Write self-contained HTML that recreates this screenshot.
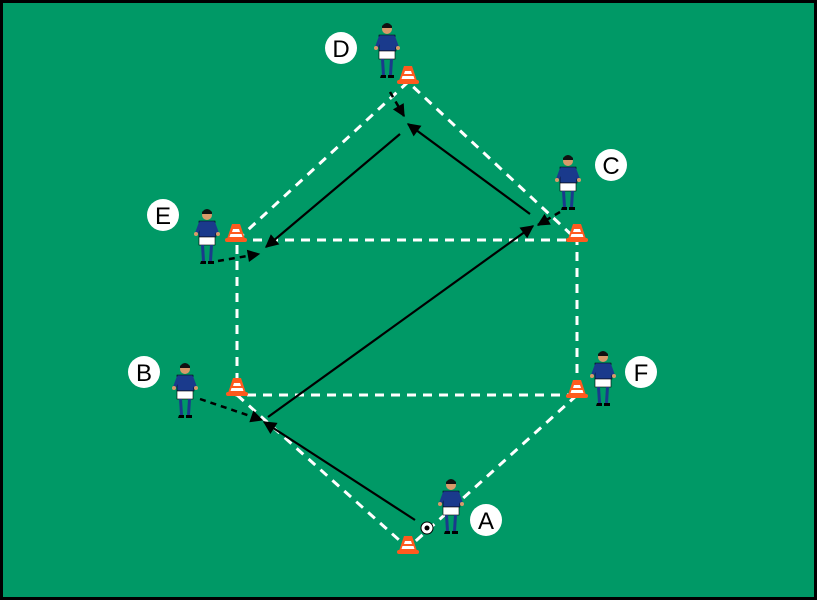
<!DOCTYPE html>
<html><head><meta charset="utf-8"><style>
html,body{margin:0;padding:0;background:#000}
svg{display:block}
text{font-family:"Liberation Sans",sans-serif;font-size:24px;text-anchor:middle;fill:#000}
</style></head><body>
<svg width="817" height="600" viewBox="0 0 817 600" xmlns="http://www.w3.org/2000/svg">
<defs>
<marker id="ah" viewBox="0 0 10 10" refX="9" refY="5" markerWidth="7" markerHeight="6" orient="auto" markerUnits="strokeWidth">
<path d="M0,0 L10,5 L0,10 z" fill="#000"/></marker>
<marker id="ah2" viewBox="0 0 10 10" refX="9" refY="5" markerWidth="6" markerHeight="5" orient="auto" markerUnits="strokeWidth">
<path d="M0,0 L10,5 L0,10 z" fill="#000"/></marker>
<g id="cone">
<path d="M-4,-10 L4,-10 L9,5 L-9,5 z" fill="#ff5a1e"/>
<rect x="-11" y="4" width="22" height="4" rx="2" fill="#ff5a1e"/>
<path d="M-3,-5 L3,-5 L4,-2 L-4,-2 z M-5.5,0 L5.5,0 L6.5,3 L-6.5,3 z" fill="#fff"/>
</g>
<g id="pl">
<circle cx="0" cy="-28" r="5" fill="#d99a6a"/>
<path d="M-5,-31 Q0,-37 5,-31 L5,-29 L-5,-29z" fill="#111"/>
<path d="M-8,-22 L8,-22 L9,-6 L-8,-6 z" fill="#1a3a8c" stroke="#000" stroke-width="0.6"/>
<path d="M-8,-21 L-12,-10 L-9,-9 L-6,-17z M8,-21 L12,-10 L9,-9 L6,-17z" fill="#1a3a8c"/>
<circle cx="-11" cy="-9" r="2" fill="#d99a6a"/><circle cx="11" cy="-9" r="2" fill="#d99a6a"/>
<rect x="-8" y="-6" width="16" height="8" fill="#fff" stroke="#000" stroke-width="0.6"/>
<path d="M-6,2 L-3,2 L-2,18 L-5,18z M3,2 L6,2 L5,18 L2,18z" fill="#1a3a8c"/>
<path d="M-6,18 L-1,18 L-1,21 L-7,21z M1,18 L7,18 L7,21 L1,21z" fill="#000"/>
</g>
</defs>
<rect x="0" y="0" width="817" height="600" fill="#000"/>
<rect x="3" y="3" width="811" height="594" fill="#009966"/>
<g stroke="#fff" stroke-width="3" stroke-dasharray="9,7" fill="none">
<path d="M237,240 L577,240 L577,395 L237,395 Z"/>
<path d="M237,240 L408,82 L577,240"/>
<path d="M237,395 L408,548 L577,395"/>
</g>
<g stroke="#000" stroke-width="2.2" fill="none" marker-end="url(#ah)">
<line x1="415" y1="520" x2="264" y2="422"/>
<line x1="268" y1="417" x2="533" y2="226"/>
<line x1="530" y1="214" x2="408" y2="124"/>
<line x1="400" y1="134" x2="266" y2="247"/>
</g>
<g stroke="#000" stroke-width="2.5" stroke-dasharray="6,5" fill="none" marker-end="url(#ah2)">
<line x1="390" y1="92" x2="404" y2="116"/>
<line x1="560" y1="212" x2="538" y2="225"/>
<line x1="218" y1="261" x2="259" y2="254"/>
<line x1="200" y1="399" x2="262" y2="420"/>
</g>
<use href="#cone" x="408" y="76"/>
<use href="#cone" x="236" y="234"/>
<use href="#cone" x="577" y="234"/>
<use href="#cone" x="237" y="388"/>
<use href="#cone" x="577" y="390"/>
<use href="#cone" x="408" y="546"/>
<use href="#pl" x="387" y="57"/>
<use href="#pl" x="568" y="189"/>
<use href="#pl" x="207" y="243"/>
<use href="#pl" x="185" y="397"/>
<use href="#pl" x="603" y="385"/>
<use href="#pl" x="451" y="513"/>
<circle cx="427" cy="528" r="6" fill="#fff" stroke="#000" stroke-width="1"/>
<circle cx="427" cy="528" r="2.5" fill="#000"/>
<g fill="#fff">
<circle cx="341" cy="48" r="16"/><circle cx="611" cy="165" r="16"/>
<circle cx="163" cy="215" r="16"/><circle cx="144" cy="372" r="16"/>
<circle cx="641" cy="372" r="16"/><circle cx="486" cy="520" r="16"/>
</g>
<text x="341" y="57">D</text><text x="611" y="174">C</text>
<text x="163" y="224">E</text><text x="144" y="381">B</text>
<text x="641" y="381">F</text><text x="486" y="529">A</text>
</svg>
</body></html>
